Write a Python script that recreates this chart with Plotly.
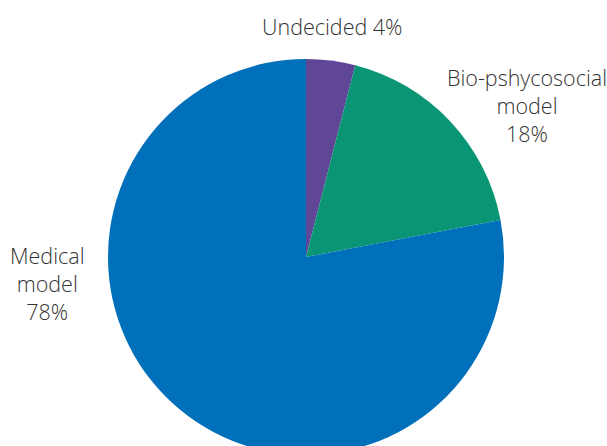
import plotly.graph_objects as go

# Survey: preferred explanatory model
categories = ["Undecided", "Bio-pshycosocial<br>model", "Medical<br>model"]
shares = [4, 18, 78]
colors = ["#5f4697", "#0a9674", "#0070ba"]

W, H = 607, 460

fig = go.Figure(
    go.Pie(
        labels=categories,
        values=shares,
        sort=False,
        direction="clockwise",
        rotation=0,
        textinfo="none",
        hoverinfo="label+percent",
        marker=dict(colors=colors, line=dict(width=0)),
        domain=dict(x=[108 / W, 504 / W], y=[1 - 455 / H, 1 - 59 / H]),
        showlegend=False,
    )
)

# Outside labels, placed in pixel terms
label_pos = [(332, 27, "single"), (527, 105, "multi"), (48, 283, "multi")]
for (x, y, kind), name, v in zip(label_pos, categories, shares):
    text = f"{name} {v}%" if kind == "single" else f"{name}<br>{v}%"
    fig.add_annotation(
        x=x / W, y=1 - y / H, xref="paper", yref="paper",
        text=text, showarrow=False, xanchor="center", yanchor="middle",
        align="center",
        font=dict(family="Open Sans", size=21.5, weight=300, color="#333333"),
    )

fig.update_layout(
    width=W, height=H,
    margin=dict(l=0, r=0, t=0, b=0),
    paper_bgcolor="white", plot_bgcolor="white",
)

fig.write_html(
    "out.html",
    post_script="document.documentElement.style.overflow='hidden';"
    "document.body.style.overflow='hidden';document.body.style.margin='0';",
)
